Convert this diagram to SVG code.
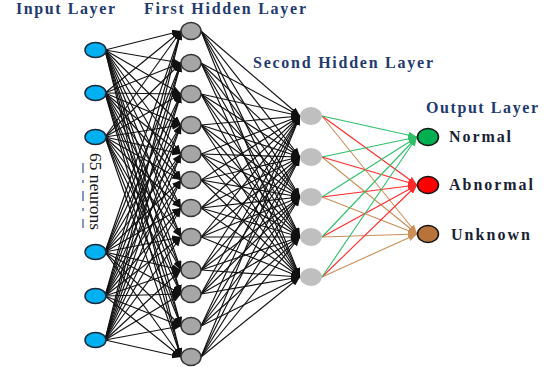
<svg xmlns="http://www.w3.org/2000/svg" width="558" height="367" viewBox="0 0 558 367">
  <style>
    .ttl { font-family: "Liberation Serif", "Times New Roman", serif; font-weight: bold; font-size: 16px; fill: #1f3a6e; }
    .lbl { font-family: "Liberation Serif", "Times New Roman", serif; font-weight: bold; font-size: 16px; fill: #1a1f33; }
    .note { font-family: "Liberation Serif", "Times New Roman", serif; font-size: 17px; fill: #151515; }
    .k { stroke: #111; stroke-width: 1.15; marker-end: url(#ak); }
    .g { stroke: #2fbf6a; stroke-width: 1.1; marker-end: url(#ag); }
    .r { stroke: #ff2a2a; stroke-width: 1.1; marker-end: url(#ar); }
    .t { stroke: #cc8f58; stroke-width: 1.1; marker-end: url(#at); }
    .in { fill: #00b0f0; stroke: #1b2a3a; stroke-width: 1.5; }
    .h1 { fill: #a6a6a6; stroke: #333; stroke-width: 1.5; }
    .h2 { fill: #bfbfbf; }
  </style>
  <defs>
    <marker id="ak" markerUnits="userSpaceOnUse" markerWidth="9" markerHeight="7" refX="9" refY="3.5" orient="auto"><path d="M0,0 L9,3.5 L0,7 z" fill="#111"/></marker>
    <marker id="ag" markerUnits="userSpaceOnUse" markerWidth="9" markerHeight="7" refX="9" refY="3.5" orient="auto"><path d="M0,0 L9,3.5 L0,7 z" fill="#2fbf6a"/></marker>
    <marker id="ar" markerUnits="userSpaceOnUse" markerWidth="9" markerHeight="7" refX="9" refY="3.5" orient="auto"><path d="M0,0 L9,3.5 L0,7 z" fill="#ff2a2a"/></marker>
    <marker id="at" markerUnits="userSpaceOnUse" markerWidth="9" markerHeight="7" refX="9" refY="3.5" orient="auto"><path d="M0,0 L9,3.5 L0,7 z" fill="#cc8f58"/></marker>
  </defs>

  <!-- layer titles -->
  <text class="ttl" x="16" y="14" textLength="99" lengthAdjust="spacing">Input Layer</text>
  <text class="ttl" x="144" y="14" textLength="162" lengthAdjust="spacing">First Hidden Layer</text>
  <text class="ttl" x="253" y="68" textLength="180" lengthAdjust="spacing">Second Hidden Layer</text>
  <text class="ttl" x="426" y="113" textLength="112" lengthAdjust="spacing">Output Layer</text>

  <!-- connectors -->
  <g id="connectors">
    <!-- input -> first hidden -->
    <g id="c-in-h1">
      <line class="k" x1="105" y1="50" x2="181" y2="31"/><line class="k" x1="105" y1="50" x2="181" y2="63"/><line class="k" x1="105" y1="50" x2="181" y2="94"/><line class="k" x1="105" y1="50" x2="181" y2="125"/><line class="k" x1="105" y1="50" x2="181" y2="154"/><line class="k" x1="105" y1="50" x2="181" y2="180"/><line class="k" x1="105" y1="50" x2="181" y2="208"/><line class="k" x1="105" y1="50" x2="181" y2="237"/><line class="k" x1="105" y1="50" x2="181" y2="270"/><line class="k" x1="105" y1="50" x2="181" y2="294"/><line class="k" x1="105" y1="50" x2="181" y2="326"/><line class="k" x1="105" y1="50" x2="181" y2="357"/>
      <line class="k" x1="105" y1="93" x2="181" y2="31"/><line class="k" x1="105" y1="93" x2="181" y2="63"/><line class="k" x1="105" y1="93" x2="181" y2="94"/><line class="k" x1="105" y1="93" x2="181" y2="125"/><line class="k" x1="105" y1="93" x2="181" y2="154"/><line class="k" x1="105" y1="93" x2="181" y2="180"/><line class="k" x1="105" y1="93" x2="181" y2="208"/><line class="k" x1="105" y1="93" x2="181" y2="237"/><line class="k" x1="105" y1="93" x2="181" y2="270"/><line class="k" x1="105" y1="93" x2="181" y2="294"/><line class="k" x1="105" y1="93" x2="181" y2="326"/><line class="k" x1="105" y1="93" x2="181" y2="357"/>
      <line class="k" x1="105" y1="137" x2="181" y2="31"/><line class="k" x1="105" y1="137" x2="181" y2="63"/><line class="k" x1="105" y1="137" x2="181" y2="94"/><line class="k" x1="105" y1="137" x2="181" y2="125"/><line class="k" x1="105" y1="137" x2="181" y2="154"/><line class="k" x1="105" y1="137" x2="181" y2="180"/><line class="k" x1="105" y1="137" x2="181" y2="208"/><line class="k" x1="105" y1="137" x2="181" y2="237"/><line class="k" x1="105" y1="137" x2="181" y2="270"/><line class="k" x1="105" y1="137" x2="181" y2="294"/><line class="k" x1="105" y1="137" x2="181" y2="326"/><line class="k" x1="105" y1="137" x2="181" y2="357"/>
      <line class="k" x1="105" y1="252" x2="181" y2="31"/><line class="k" x1="105" y1="252" x2="181" y2="63"/><line class="k" x1="105" y1="252" x2="181" y2="94"/><line class="k" x1="105" y1="252" x2="181" y2="125"/><line class="k" x1="105" y1="252" x2="181" y2="154"/><line class="k" x1="105" y1="252" x2="181" y2="180"/><line class="k" x1="105" y1="252" x2="181" y2="208"/><line class="k" x1="105" y1="252" x2="181" y2="237"/><line class="k" x1="105" y1="252" x2="181" y2="270"/><line class="k" x1="105" y1="252" x2="181" y2="294"/><line class="k" x1="105" y1="252" x2="181" y2="326"/><line class="k" x1="105" y1="252" x2="181" y2="357"/>
      <line class="k" x1="105" y1="296" x2="181" y2="31"/><line class="k" x1="105" y1="296" x2="181" y2="63"/><line class="k" x1="105" y1="296" x2="181" y2="94"/><line class="k" x1="105" y1="296" x2="181" y2="125"/><line class="k" x1="105" y1="296" x2="181" y2="154"/><line class="k" x1="105" y1="296" x2="181" y2="180"/><line class="k" x1="105" y1="296" x2="181" y2="208"/><line class="k" x1="105" y1="296" x2="181" y2="237"/><line class="k" x1="105" y1="296" x2="181" y2="270"/><line class="k" x1="105" y1="296" x2="181" y2="294"/><line class="k" x1="105" y1="296" x2="181" y2="326"/><line class="k" x1="105" y1="296" x2="181" y2="357"/>
      <line class="k" x1="105" y1="340" x2="181" y2="31"/><line class="k" x1="105" y1="340" x2="181" y2="63"/><line class="k" x1="105" y1="340" x2="181" y2="94"/><line class="k" x1="105" y1="340" x2="181" y2="125"/><line class="k" x1="105" y1="340" x2="181" y2="154"/><line class="k" x1="105" y1="340" x2="181" y2="180"/><line class="k" x1="105" y1="340" x2="181" y2="208"/><line class="k" x1="105" y1="340" x2="181" y2="237"/><line class="k" x1="105" y1="340" x2="181" y2="270"/><line class="k" x1="105" y1="340" x2="181" y2="294"/><line class="k" x1="105" y1="340" x2="181" y2="326"/><line class="k" x1="105" y1="340" x2="181" y2="357"/>
    </g>
    <!-- first hidden -> second hidden -->
    <g id="c-h1-h2">
      <line class="k" x1="201" y1="31" x2="300" y2="116"/><line class="k" x1="201" y1="31" x2="300" y2="157"/><line class="k" x1="201" y1="31" x2="300" y2="197"/><line class="k" x1="201" y1="31" x2="300" y2="237"/><line class="k" x1="201" y1="31" x2="300" y2="277"/>
      <line class="k" x1="201" y1="63" x2="300" y2="116"/><line class="k" x1="201" y1="63" x2="300" y2="157"/><line class="k" x1="201" y1="63" x2="300" y2="197"/><line class="k" x1="201" y1="63" x2="300" y2="237"/><line class="k" x1="201" y1="63" x2="300" y2="277"/>
      <line class="k" x1="201" y1="94" x2="300" y2="116"/><line class="k" x1="201" y1="94" x2="300" y2="157"/><line class="k" x1="201" y1="94" x2="300" y2="197"/><line class="k" x1="201" y1="94" x2="300" y2="237"/><line class="k" x1="201" y1="94" x2="300" y2="277"/>
      <line class="k" x1="201" y1="125" x2="300" y2="116"/><line class="k" x1="201" y1="125" x2="300" y2="157"/><line class="k" x1="201" y1="125" x2="300" y2="197"/><line class="k" x1="201" y1="125" x2="300" y2="237"/><line class="k" x1="201" y1="125" x2="300" y2="277"/>
      <line class="k" x1="201" y1="154" x2="300" y2="116"/><line class="k" x1="201" y1="154" x2="300" y2="157"/><line class="k" x1="201" y1="154" x2="300" y2="197"/><line class="k" x1="201" y1="154" x2="300" y2="237"/><line class="k" x1="201" y1="154" x2="300" y2="277"/>
      <line class="k" x1="201" y1="180" x2="300" y2="116"/><line class="k" x1="201" y1="180" x2="300" y2="157"/><line class="k" x1="201" y1="180" x2="300" y2="197"/><line class="k" x1="201" y1="180" x2="300" y2="237"/><line class="k" x1="201" y1="180" x2="300" y2="277"/>
      <line class="k" x1="201" y1="208" x2="300" y2="116"/><line class="k" x1="201" y1="208" x2="300" y2="157"/><line class="k" x1="201" y1="208" x2="300" y2="197"/><line class="k" x1="201" y1="208" x2="300" y2="237"/><line class="k" x1="201" y1="208" x2="300" y2="277"/>
      <line class="k" x1="201" y1="237" x2="300" y2="116"/><line class="k" x1="201" y1="237" x2="300" y2="157"/><line class="k" x1="201" y1="237" x2="300" y2="197"/><line class="k" x1="201" y1="237" x2="300" y2="237"/><line class="k" x1="201" y1="237" x2="300" y2="277"/>
      <line class="k" x1="201" y1="270" x2="300" y2="116"/><line class="k" x1="201" y1="270" x2="300" y2="157"/><line class="k" x1="201" y1="270" x2="300" y2="197"/><line class="k" x1="201" y1="270" x2="300" y2="237"/><line class="k" x1="201" y1="270" x2="300" y2="277"/>
      <line class="k" x1="201" y1="294" x2="300" y2="116"/><line class="k" x1="201" y1="294" x2="300" y2="157"/><line class="k" x1="201" y1="294" x2="300" y2="197"/><line class="k" x1="201" y1="294" x2="300" y2="237"/><line class="k" x1="201" y1="294" x2="300" y2="277"/>
      <line class="k" x1="201" y1="326" x2="300" y2="116"/><line class="k" x1="201" y1="326" x2="300" y2="157"/><line class="k" x1="201" y1="326" x2="300" y2="197"/><line class="k" x1="201" y1="326" x2="300" y2="237"/><line class="k" x1="201" y1="326" x2="300" y2="277"/>
      <line class="k" x1="201" y1="357" x2="300" y2="116"/><line class="k" x1="201" y1="357" x2="300" y2="157"/><line class="k" x1="201" y1="357" x2="300" y2="197"/><line class="k" x1="201" y1="357" x2="300" y2="237"/><line class="k" x1="201" y1="357" x2="300" y2="277"/>
    </g>
    <!-- second hidden -> output -->
    <g id="c-h2-out">
      <line class="t" x1="322" y1="116" x2="417" y2="234"/><line class="t" x1="322" y1="157" x2="417" y2="234"/><line class="t" x1="322" y1="197" x2="417" y2="234"/><line class="t" x1="322" y1="237" x2="417" y2="234"/><line class="t" x1="322" y1="277" x2="417" y2="234"/>
      <line class="r" x1="322" y1="116" x2="417" y2="185"/><line class="r" x1="322" y1="157" x2="417" y2="185"/><line class="r" x1="322" y1="197" x2="417" y2="185"/><line class="r" x1="322" y1="237" x2="417" y2="185"/><line class="r" x1="322" y1="277" x2="417" y2="185"/>
      <line class="g" x1="322" y1="116" x2="417" y2="137"/><line class="g" x1="322" y1="157" x2="417" y2="137"/><line class="g" x1="322" y1="197" x2="417" y2="137"/><line class="g" x1="322" y1="237" x2="417" y2="137"/><line class="g" x1="322" y1="277" x2="417" y2="137"/>
    </g>
  </g>

  <!-- input layer -->
  <g id="input-layer">
    <g id="in1"><ellipse class="in" cx="95.5" cy="50" rx="10.5" ry="7.5"/></g>
    <g id="in2"><ellipse class="in" cx="95.5" cy="93" rx="10.5" ry="7.5"/></g>
    <g id="in3"><ellipse class="in" cx="95.5" cy="137" rx="10.5" ry="7.5"/></g>
    <g id="in4"><ellipse class="in" cx="95.5" cy="252" rx="10.5" ry="7.5"/></g>
    <g id="in5"><ellipse class="in" cx="95.5" cy="296" rx="10.5" ry="7.5"/></g>
    <g id="in6"><ellipse class="in" cx="95.5" cy="340" rx="10.5" ry="7.5"/></g>
    <g id="in-note">
      <line x1="83" y1="163" x2="83" y2="228" stroke="#5a78a8" stroke-width="1.5" stroke-dasharray="10,7,3,8"/>
      <text class="note" transform="translate(90,153) rotate(90)" textLength="77" lengthAdjust="spacingAndGlyphs">65 neurons</text>
    </g>
  </g>

  <!-- first hidden layer -->
  <g id="hidden-1">
    <g id="h1-1"><ellipse class="h1" cx="191" cy="31" rx="10" ry="8.5"/></g>
    <g id="h1-2"><ellipse class="h1" cx="191" cy="63" rx="10" ry="8.5"/></g>
    <g id="h1-3"><ellipse class="h1" cx="191" cy="94" rx="10" ry="8.5"/></g>
    <g id="h1-4"><ellipse class="h1" cx="191" cy="125" rx="10" ry="8.5"/></g>
    <g id="h1-5"><ellipse class="h1" cx="191" cy="154" rx="10" ry="8.5"/></g>
    <g id="h1-6"><ellipse class="h1" cx="191" cy="180" rx="10" ry="8.5"/></g>
    <g id="h1-7"><ellipse class="h1" cx="191" cy="208" rx="10" ry="8.5"/></g>
    <g id="h1-8"><ellipse class="h1" cx="191" cy="237" rx="10" ry="8.5"/></g>
    <g id="h1-9"><ellipse class="h1" cx="191" cy="270" rx="10" ry="8.5"/></g>
    <g id="h1-10"><ellipse class="h1" cx="191" cy="294" rx="10" ry="8.5"/></g>
    <g id="h1-11"><ellipse class="h1" cx="191" cy="326" rx="10" ry="8.5"/></g>
    <g id="h1-12"><ellipse class="h1" cx="191" cy="357" rx="10" ry="8.5"/></g>
  </g>

  <!-- second hidden layer -->
  <g id="hidden-2">
    <g id="h2-1"><ellipse class="h2" cx="311" cy="116" rx="11" ry="9"/></g>
    <g id="h2-2"><ellipse class="h2" cx="311" cy="157" rx="11" ry="9"/></g>
    <g id="h2-3"><ellipse class="h2" cx="311" cy="197" rx="11" ry="9"/></g>
    <g id="h2-4"><ellipse class="h2" cx="311" cy="237" rx="11" ry="9"/></g>
    <g id="h2-5"><ellipse class="h2" cx="311" cy="277" rx="11" ry="9"/></g>
  </g>

  <!-- output layer -->
  <g id="output-layer">
    <g id="out-normal">
      <ellipse cx="428" cy="137" rx="10.5" ry="8.5" fill="#00b050" stroke="#111" stroke-width="1.5"/>
      <text class="lbl" x="449" y="142" textLength="62" lengthAdjust="spacing">Normal</text>
    </g>
    <g id="out-abnormal">
      <ellipse cx="428" cy="185" rx="10.5" ry="8.5" fill="#ff0000" stroke="#111" stroke-width="1.5"/>
      <text class="lbl" x="449" y="190" textLength="84" lengthAdjust="spacing">Abnormal</text>
    </g>
    <g id="out-unknown">
      <ellipse cx="428" cy="234" rx="10.5" ry="8.5" fill="#b8733a" stroke="#111" stroke-width="1.5"/>
      <text class="lbl" x="451" y="240" textLength="79" lengthAdjust="spacing">Unknown</text>
    </g>
  </g>
</svg>
